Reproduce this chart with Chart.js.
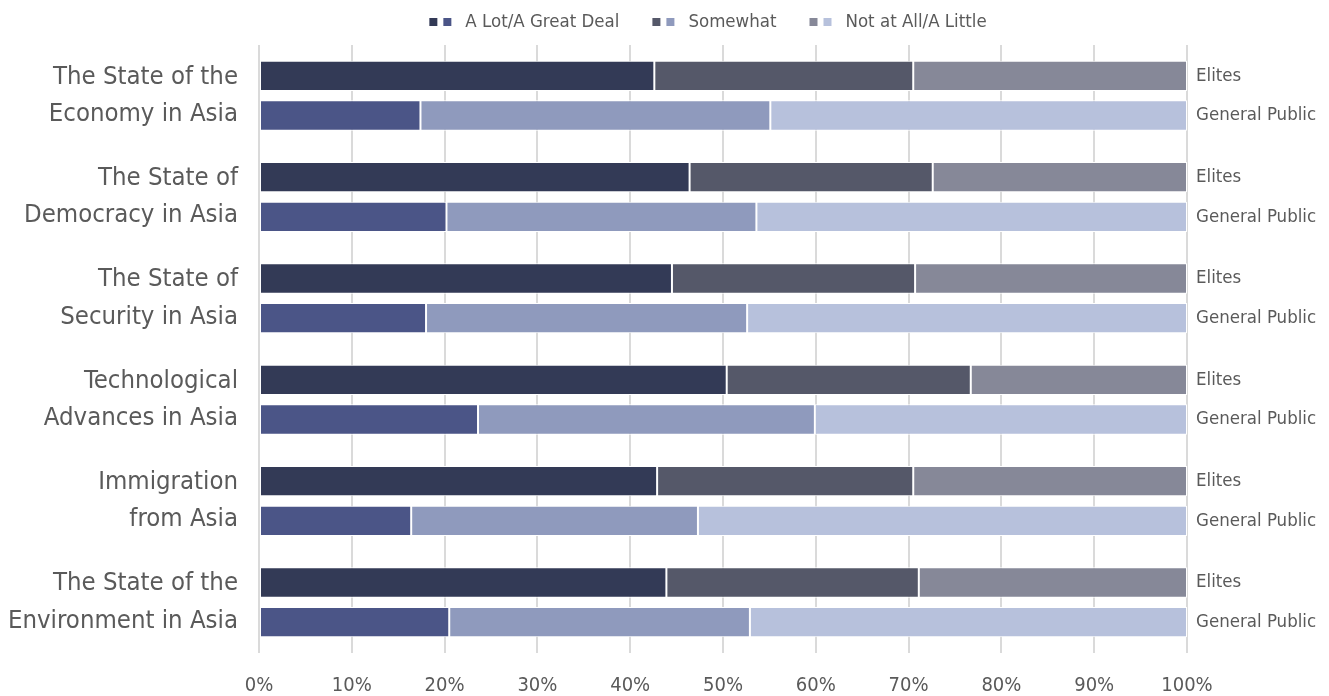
<!DOCTYPE html>
<html>
<head>
<meta charset="utf-8">
<script src="https://cdn.jsdelivr.net/npm/chart.js@4/dist/chart.umd.min.js"></script>
<style>
  html, body { margin: 0; padding: 0; background: #fff; }
  #wrap { width: 1329px; height: 696px; }
</style>
</head>
<body>
<div id="wrap"><canvas id="myChart-asia"></canvas></div>
<script>
// Topics (left labels)
const categories = [
    ['The State of the', 'Economy in Asia'],
    ['The State of', 'Democracy in Asia'],
    ['The State of', 'Security in Asia'],
    ['Technological', 'Advances in Asia'],
    ['Immigration', 'from Asia'],
    ['The State of the', 'Environment in Asia']
];
const groups = ['Elites', 'General Public'];
const seriesNames = ['A Lot/A Great Deal', 'Somewhat', 'Not at All/A Little'];

// Elites
const elitesALot = [42.6, 46.4, 44.5, 50.4, 42.9, 43.9];
const elitesSomewhat = [27.9, 26.2, 26.2, 26.3, 27.6, 27.2];
const elitesNotAtAll = [29.5, 27.4, 29.3, 23.3, 29.5, 28.9];

// General public
const publicALot = [17.4, 20.2, 18.0, 23.6, 16.4, 20.5];
const publicSomewhat = [37.7, 33.4, 34.6, 36.3, 30.9, 32.4];
const publicNotAtAll = [44.9, 46.4, 47.4, 40.1, 52.7, 47.1];

const xTicks = [0, 10, 20, 30, 40, 50, 60, 70, 80, 90, 100];

const elitesColors = ['#333a56', '#555869', '#868898'];
const publicColors = ['#4b5587', '#8f9abd', '#b7c1dc'];

const FONT = "'Liberation Sans Narrow', 'DejaVu Sans Condensed', 'Arial Narrow', sans-serif";
const TEXT = '#5a5a5a';

function bar(label, data, color, stack) {
    return {
        label: label,
        data: data,
        stack: stack,
        backgroundColor: color,
        borderColor: '#ffffff',
        borderWidth: 1,
        borderSkipped: false,
        categoryPercentage: 0.782,
        barPercentage: 0.765
    };
}

// legend with two squares per entry (elites colour, public colour)
const twoBoxLegend = {
    id: 'twoBoxLegend',
    afterDraw(chart) {
        const c = chart.ctx;
        c.save();
        c.font = '18.5px ' + FONT;
        c.textBaseline = 'middle';
        const box = 8, step = 14, textOff = 36, itemGap = 33;
        const widths = seriesNames.map(n => c.measureText(n).width);
        let total = 0;
        widths.forEach(w => { total += textOff + w; });
        total += itemGap * (seriesNames.length - 1);
        let x = 708 - total / 2;
        const y = 22;
        seriesNames.forEach((n, i) => {
            c.fillStyle = elitesColors[i];
            c.fillRect(x, y - box / 2, box, box);
            c.fillStyle = publicColors[i];
            c.fillRect(x + step, y - box / 2, box, box);
            c.fillStyle = TEXT;
            c.fillText(n, x + textOff, y);
            x += textOff + widths[i] + itemGap;
        });
        c.restore();
    }
};

// keep the label half-heights from pushing the plot area in
function noPad(scale) {
    scale.paddingTop = 0;
    scale.paddingBottom = 0;
}

const ctx = document.getElementById('myChart-asia').getContext('2d');
const myChart = new Chart(ctx, {
    type: 'bar',
    data: {
        labels: categories,
        datasets: [
            bar(seriesNames[0] + ' (Elites)', elitesALot, elitesColors[0], 'elites'),
            bar(seriesNames[1] + ' (Elites)', elitesSomewhat, elitesColors[1], 'elites'),
            bar(seriesNames[2] + ' (Elites)', elitesNotAtAll, elitesColors[2], 'elites'),
            bar(seriesNames[0] + ' (Public)', publicALot, publicColors[0], 'public'),
            bar(seriesNames[1] + ' (Public)', publicSomewhat, publicColors[1], 'public'),
            bar(seriesNames[2] + ' (Public)', publicNotAtAll, publicColors[2], 'public')
        ]
    },
    options: {
        indexAxis: 'y',
        responsive: true,
        maintainAspectRatio: false,
        animation: false,
        layout: { padding: { top: 45, bottom: 0, left: 0, right: 0 } },
        plugins: {
            legend: { display: false },
            tooltip: { enabled: false }
        },
        scales: {
            x: {
                stacked: true,
                min: 0,
                max: 100,
                afterBuildTicks: (scale) => { scale.ticks = xTicks.map(v => ({ value: v })); },
                grid: { color: '#dadada', lineWidth: 2, drawTicks: false },
                border: { display: false },
                ticks: {
                    padding: 21,
                    color: TEXT,
                    font: { family: FONT, size: 20 },
                    callback: (v) => v + '%'
                },
                afterFit: (scale) => { scale.height = 43; }
            },
            y: {
                stacked: true,
                grid: { display: false, drawTicks: false },
                border: { display: false },
                ticks: {
                    padding: 21,
                    color: TEXT,
                    font: { family: FONT, size: 25.5, lineHeight: 1.47 }
                },
                afterFit: (scale) => { scale.width = 259; noPad(scale); }
            },
            y2: {
                type: 'category',
                position: 'right',
                offset: true,
                grid: { display: false, drawTicks: false },
                border: { display: false },
                ticks: {
                    padding: 9,
                    color: TEXT,
                    font: { family: FONT, size: 18.5, lineHeight: 2.14 },
                    callback: () => groups
                },
                afterFit: (scale) => { scale.width = 142; noPad(scale); }
            }
        }
    },
    plugins: [twoBoxLegend]
});
</script>
</body>
</html>
